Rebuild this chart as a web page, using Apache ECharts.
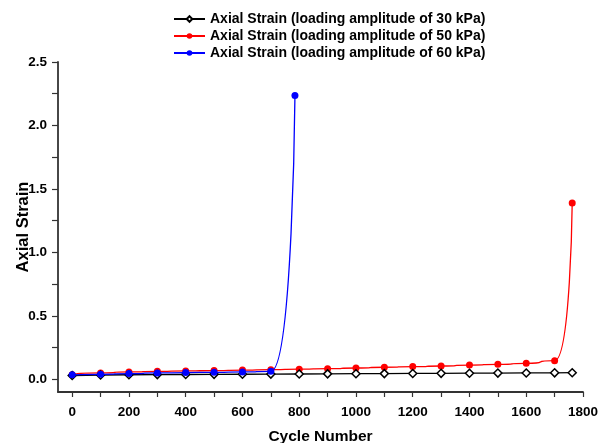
<!DOCTYPE html>
<html>
<head>
<meta charset="utf-8">
<script src="https://cdn.jsdelivr.net/npm/echarts@6/dist/echarts.min.js"></script>
<style>
  html, body { margin: 0; padding: 0; background: #fff; }
  #chart { width: 598px; height: 443px; }
</style>
</head>
<body>
<div id="chart"></div>
<script>
const cycles30 = [0, 100, 200, 300, 400, 500, 600, 700, 800, 900, 1000, 1100, 1200, 1300, 1400, 1500, 1600, 1700, 1762];
const strain30 = [0.030, 0.034, 0.036, 0.037, 0.038, 0.039, 0.040, 0.041, 0.042, 0.043, 0.044, 0.045, 0.046, 0.047, 0.048, 0.049, 0.050, 0.051, 0.052];

const cycles50 = [0, 100, 200, 300, 400, 500, 600, 700, 800, 900, 1000, 1100, 1200, 1300, 1400, 1500, 1600, 1700, 1762];
const strain50 = [0.035, 0.050, 0.058, 0.063, 0.066, 0.069, 0.073, 0.076, 0.080, 0.084, 0.089, 0.095, 0.100, 0.105, 0.112, 0.118, 0.126, 0.147, 1.39];

const cycles60 = [0, 100, 200, 300, 400, 500, 600, 700, 785];
const strain60 = [0.035, 0.039, 0.045, 0.050, 0.053, 0.055, 0.058, 0.063, 2.237];

const xLabels = [0, 200, 400, 600, 800, 1000, 1200, 1400, 1600, 1800];
const xTicks = [0, 100, 200, 300, 400, 500, 600, 700, 800, 900, 1000, 1100, 1200, 1300, 1400, 1500, 1600, 1700, 1800];
const yLabels = [0, 0.5, 1.0, 1.5, 2.0, 2.5];
const yTicks = [0, 0.25, 0.5, 0.75, 1.0, 1.25, 1.5, 1.75, 2.0, 2.25, 2.5];

const names = [
  "Axial Strain (loading amplitude of 30 kPa)",
  "Axial Strain (loading amplitude of 50 kPa)",
  "Axial Strain (loading amplitude of 60 kPa)",
];

const pairs = (xs, ys) => xs.map((x, i) => [x, ys[i]]);
const font = "Arial, 'Liberation Sans', sans-serif";
const axisColor = "#333";

const chart = echarts.init(document.getElementById("chart"));
chart.setOption({
  animation: false,
  textStyle: { fontFamily: font },
  legend: {
    orient: "vertical",
    left: 168,
    top: 7,
    itemGap: 3,
    itemWidth: 31,
    itemHeight: 7,
    textStyle: { fontFamily: font, fontWeight: "bold", fontSize: 14, color: "#000" },
    data: names,
  },
  grid: { left: 58, top: 62, right: 15, bottom: 51, outerBoundsMode: "none" },
  xAxis: {
    type: "value",
    min: -50,
    max: 1800,
    name: "Cycle Number",
    nameLocation: "middle",
    nameGap: 37,
    nameTextStyle: { fontFamily: font, fontWeight: "bold", fontSize: 15.5, color: "#000" },
    splitLine: { show: false },
    axisLine: { onZero: false, lineStyle: { color: axisColor, width: 1.8 } },
    axisTick: { customValues: xTicks, length: 5, lineStyle: { color: axisColor, width: 1.2 } },
    axisLabel: {
      customValues: xLabels,
      margin: 13,
      formatter: (v) => String(v),
      fontFamily: font, fontWeight: "bold", fontSize: 13.5, color: "#000",
    },
  },
  yAxis: {
    type: "value",
    min: -0.1,
    max: 2.5,
    name: "Axial Strain",
    nameLocation: "middle",
    nameGap: 26,
    nameMoveOverlap: false,
    nameTextStyle: { fontFamily: font, fontWeight: "bold", fontSize: 16.5, color: "#000" },
    splitLine: { show: false },
    axisLine: { show: true, onZero: false, lineStyle: { color: axisColor, width: 1.8 } },
    axisTick: { show: true, customValues: yTicks, length: 6, lineStyle: { color: axisColor, width: 1.2 } },
    axisLabel: {
      customValues: yLabels,
      margin: 11,
      formatter: (v) => v.toFixed(1),
      fontFamily: font, fontWeight: "bold", fontSize: 13.5, color: "#000",
    },
  },
  series: [
    {
      name: names[0],
      type: "line",
      data: pairs(cycles30, strain30),
      symbol: "diamond",
      symbolSize: 8,
      itemStyle: { color: "#fff", borderColor: "#000", borderWidth: 1.5 },
      lineStyle: { color: "#000", width: 1.3 },
      z: 3,
    },
    {
      name: names[1],
      type: "line",
      data: pairs(cycles50, strain50),
      smooth: 0.9,
      smoothMonotone: "x",
      symbol: "circle",
      symbolSize: 7,
      itemStyle: { color: "#ff0000" },
      lineStyle: { color: "#ff0000", width: 1.3 },
      z: 2,
    },
    {
      name: names[2],
      type: "line",
      data: pairs(cycles60, strain60),
      smooth: 0.9,
      smoothMonotone: "x",
      symbol: "circle",
      symbolSize: 7,
      itemStyle: { color: "#0000ff" },
      lineStyle: { color: "#0000ff", width: 1.3 },
      z: 4,
    },
  ],
});
</script>
</body>
</html>
